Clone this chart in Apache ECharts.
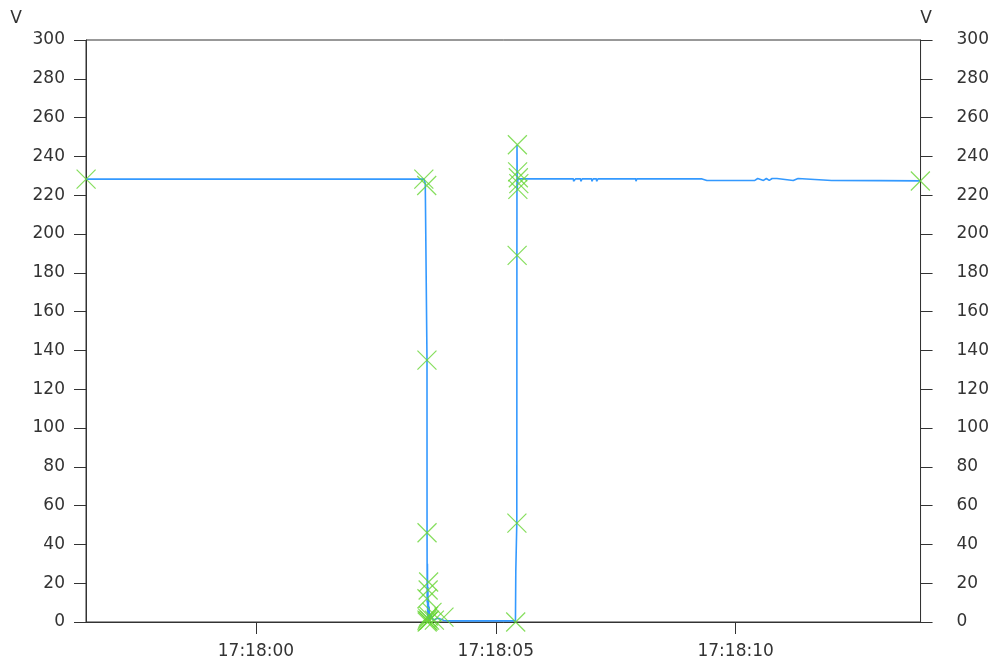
<!DOCTYPE html>
<html>
<head>
<meta charset="utf-8">
<script src="https://cdn.jsdelivr.net/npm/echarts@6/dist/echarts.min.js"></script>
<style>html,body{margin:0;padding:0;background:#fff}#c{width:992px;height:666px}</style>
</head>
<body>
<div id="c"></div>
<script>
// time in seconds relative to 17:18:00
const lineTimes = [
  -3.54, 3.50, 3.53, 3.565, 3.566, 3.567, 3.57, 3.575, 3.58, 3.585, 3.59, 3.595, 3.60, 3.61, 3.62, 3.64, 3.70, 3.80, 3.92, 4.00, 5.41, 5.415,
  5.417, 5.437, 5.438, 5.44, 5.442, 5.445, 5.448, 5.452, 5.456, 5.46, 5.50,
  6.62, 6.621, 6.66, 6.661, 6.77, 6.771, 6.80, 6.801, 7.00, 7.001, 7.03, 7.031, 7.10, 7.101, 7.13, 7.131, 7.92, 7.921, 7.94, 7.941, 9.30,
  9.40, 9.70, 10.00, 10.40, 10.401, 10.46, 10.461, 10.58, 10.581, 10.64, 10.641, 10.70, 10.701, 10.76, 10.761, 10.80, 10.801, 10.86, 10.861, 11.20, 11.201, 11.30, 11.301, 12.0, 13.0, 13.85
];
const lineValues = [
  228.3, 228.3, 226, 225, 135, 46, 10, 30, 3, 18, 1, 12, 2, 8, 0.8, 4, 1, 2, 0.8, 0.6, 0.6, 0,
  26, 27, 51, 189, 246, 232, 223, 229, 226, 228.4, 228.4,
  228.4, 227.2, 227.2, 228.4, 228.4, 227.2, 227.2, 228.4, 228.4, 227.2, 227.2, 228.4, 228.4, 227.2, 227.2, 228.4, 228.4, 227.2, 227.2, 228.4, 228.4,
  227.6, 227.6, 227.6, 227.6, 228.6, 228.6, 227.6, 227.6, 228.6, 228.6, 227.6, 227.6, 228.6, 228.6, 227.6, 227.6, 228.6, 228.6, 227.6, 227.6, 228.6, 228.6, 227.6, 227.6, 227.5, 227.4
];
const markerTimes = [-3.54, 3.50, 3.56, 3.565, 3.567, 3.60, 3.59, 3.565, 3.565, 3.57, 3.58, 3.59, 3.60, 3.62, 3.67, 3.72, 3.92, 5.415, 5.44, 5.445, 5.45, 5.455, 5.46, 5.47, 5.48, 13.85];
const markerValues = [228.3, 228.3, 225, 135, 46, 20.6, 16.5, 12, 1, 0, 2, 0.5, 3, 1, 5, 1, 2.5, 0, 51, 189, 246, 232, 223, 229, 226, 227.3];
const yTicks = [0, 20, 40, 60, 80, 100, 120, 140, 160, 180, 200, 220, 240, 260, 280, 300];
const xTickSeconds = [0, 5, 10];
const xMin = -3.542, xMax = 13.854;
const unitName = 'V';

function fmt(sec) {
  let total = 17 * 3600 + 18 * 60 + Math.round(sec);
  const h = Math.floor(total / 3600), m = Math.floor((total % 3600) / 60), s = total % 60;
  const p = n => String(n).padStart(2, '0');
  return h + ':' + p(m) + ':' + p(s);
}

const font = 'DejaVu Sans';
const txt = '#333';
const axisC = '#333';
const chart = echarts.init(document.getElementById('c'), null, {renderer: 'canvas'});
const yBase = {
  type: 'value', min: yTicks[0], max: yTicks[yTicks.length - 1], interval: 20,
  name: unitName, nameLocation: 'end', nameGap: 13,
  axisLine: {show: true, onZero: false, lineStyle: {color: axisC, width: 1}},
  axisTick: {show: true, length: 12, lineStyle: {color: axisC}},
  splitLine: {show: false},
};
chart.setOption({
  animation: false,
  backgroundColor: '#fff',
  grid: {left: 86, right: 70, top: 40, bottom: 44, show: true, borderColor: axisC, borderWidth: 1},
  xAxis: {
    type: 'value', min: xMin, max: xMax,
    axisLine: {show: true, onZero: false, lineStyle: {color: axisC}},
    axisTick: {show: true, length: 12, customValues: xTickSeconds, lineStyle: {color: axisC}},
    axisLabel: {customValues: xTickSeconds, formatter: v => fmt(v), color: txt, fontFamily: font, fontSize: 17, margin: 21},
    splitLine: {show: false}
  },
  yAxis: [
    Object.assign({}, yBase, {position: 'left',
      nameTextStyle: {color: txt, fontFamily: font, fontSize: 17, align: 'center', padding: [0, 140, 0, 0]},
      axisLabel: {color: txt, fontFamily: font, fontSize: 17, margin: 21}}),
    Object.assign({}, yBase, {position: 'right',
      nameTextStyle: {color: txt, fontFamily: font, fontSize: 17, align: 'center', padding: [0, 0, 0, 11]},
      axisLabel: {color: txt, fontFamily: font, fontSize: 17, margin: 36}})
  ],
  series: [
    {
      type: 'line', yAxisIndex: 0, showSymbol: false, symbol: 'none',
      lineStyle: {color: '#3399ff', width: 1.6},
      data: lineTimes.map((t, i) => [t, lineValues[i]]),
      z: 2
    },
    {
      type: 'scatter', yAxisIndex: 0, clip: false,
      symbol: 'path://M0,0L10,10M10,0L0,10', symbolSize: 19,
      itemStyle: {color: 'rgba(0,0,0,0)', borderColor: '#66d633', borderWidth: 1.2},
      data: markerTimes.map((t, i) => [t, markerValues[i]]),
      z: 3
    }
  ]
});
</script>
</body>
</html>
